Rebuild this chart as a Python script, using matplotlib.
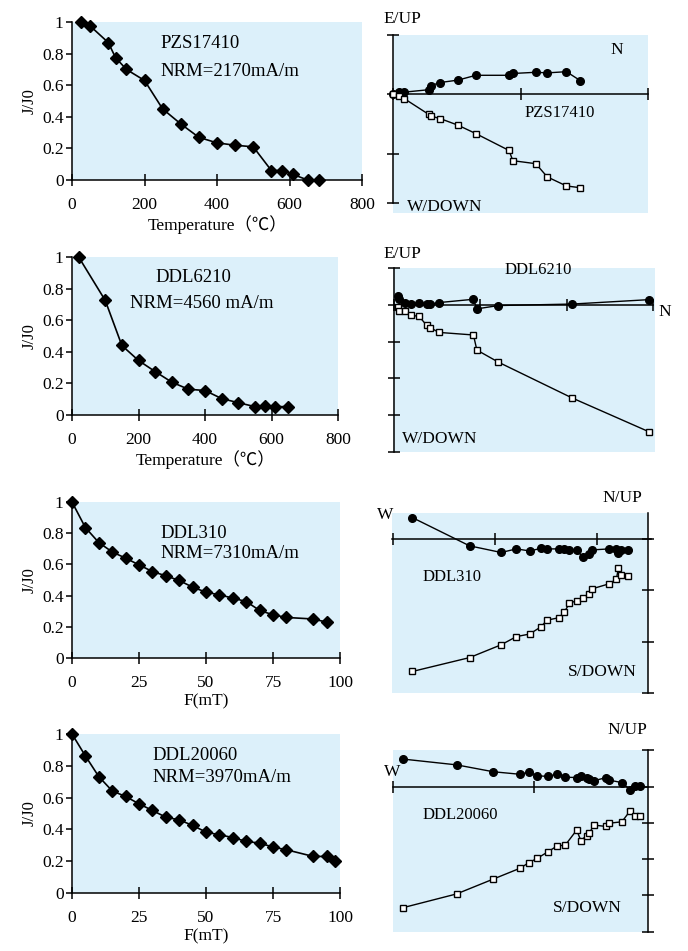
import matplotlib
matplotlib.use("Agg")
import matplotlib.pyplot as plt

plt.rcParams["font.family"] = ["Liberation Serif", "Noto Sans CJK SC", "DejaVu Sans"]
plt.rcParams["font.size"] = 12
plt.rcParams["axes.linewidth"] = 1.1

W_PX, H_PX = 688, 951
BLUE = "#dcf0fa"

# ---- demagnetisation curves (J/J0) ----
pzs_temp = [25, 50, 100, 120, 150, 200, 250, 300, 350, 400, 450, 500, 550, 580, 610, 650, 680]
pzs_j = [1.0, 0.975, 0.87, 0.775, 0.70, 0.63, 0.45, 0.355, 0.27, 0.235, 0.22, 0.21, 0.06, 0.06, 0.035, 0.0, 0.0]

ddl6210_temp = [20, 100, 150, 200, 250, 300, 350, 400, 450, 500, 550, 580, 610, 650]
ddl6210_j = [1.0, 0.725, 0.44, 0.345, 0.275, 0.208, 0.163, 0.155, 0.104, 0.078, 0.053, 0.059, 0.053, 0.053]

ddl310_field = [0, 5, 10, 15, 20, 25, 30, 35, 40, 45, 50, 55, 60, 65, 70, 75, 80, 90, 95]
ddl310_j = [1.0, 0.836, 0.74, 0.68, 0.64, 0.597, 0.554, 0.527, 0.497, 0.454, 0.422, 0.405,
            0.384, 0.362, 0.305, 0.277, 0.26, 0.25, 0.23]

ddl20060_field = [0, 5, 10, 15, 20, 25, 30, 35, 40, 45, 50, 55, 60, 65, 70, 75, 80, 90, 95, 98]
ddl20060_j = [1.0, 0.862, 0.732, 0.642, 0.607, 0.561, 0.519, 0.477, 0.46, 0.425, 0.383, 0.366,
              0.349, 0.324, 0.314, 0.289, 0.272, 0.23, 0.23, 0.203]

# ---- Zijderveld projections (horizontal component, filled = horizontal plane, open = vertical plane) ----
zpzs_h = [0, 0.05, 0.09, 0.28, 0.30, 0.37, 0.51, 0.65, 0.91, 0.94, 1.12, 1.21, 1.36, 1.47]
zpzs_f = [0, 0.03, 0.03, 0.07, 0.14, 0.19, 0.23, 0.31, 0.31, 0.34, 0.36, 0.35, 0.37, 0.22]
zpzs_o = [0, -0.04, -0.08, -0.34, -0.37, -0.41, -0.52, -0.66, -0.94, -1.11, -1.16, -1.38, -1.53, -1.56]

z6210_h = [0.05, 0.06, 0.13, 0.20, 0.29, 0.38, 0.42, 0.52, 0.92, 0.96, 1.21, 2.06, 2.95]
z6210_f = [0.23, 0.16, 0.05, 0.02, 0.06, 0.02, 0.02, 0.06, 0.15, -0.11, -0.02, 0.02, 0.14]
z6210_o = [-0.07, -0.18, -0.16, -0.29, -0.31, -0.56, -0.62, -0.75, -0.82, -1.23, -1.56, -2.53, -3.45]

z310_h = [0.19, 0.75, 1.06, 1.21, 1.34, 1.45, 1.51, 1.63, 1.68, 1.73, 1.80, 1.86, 1.92, 1.95,
          2.12, 2.19, 2.21, 2.24, 2.30]
z310_f = [0.42, -0.13, -0.26, -0.19, -0.23, -0.18, -0.19, -0.19, -0.19, -0.21, -0.21, -0.35,
          -0.29, -0.21, -0.19, -0.19, -0.27, -0.21, -0.22]
z310_o = [-2.58, -2.31, -2.06, -1.90, -1.85, -1.71, -1.58, -1.53, -1.42, -1.25, -1.20, -1.15,
          -1.06, -0.97, -0.87, -0.78, -0.56, -0.69, -0.71]

z20060_h = [0.07, 0.45, 0.71, 0.90, 0.96, 1.02, 1.10, 1.16, 1.22, 1.30, 1.33, 1.37, 1.39, 1.42,
            1.51, 1.53, 1.62, 1.68, 1.71, 1.75]
z20060_f = [0.76, 0.60, 0.41, 0.34, 0.40, 0.30, 0.28, 0.35, 0.26, 0.25, 0.28, 0.25, 0.20, 0.16,
            0.25, 0.18, 0.11, -0.09, 0.02, 0.02]
z20060_o = [-3.34, -2.96, -2.55, -2.25, -2.10, -1.98, -1.79, -1.64, -1.61, -1.20, -1.49, -1.35,
            -1.29, -1.06, -1.10, -1.01, -0.97, -0.66, -0.81, -0.81]

J_TICKS = [0, 0.2, 0.4, 0.6, 0.8, 1.0]
J_LABELS = ["0", "0.2", "0.4", "0.6", "0.8", "1"]


def px_rect(x0, y0, x1, y1):
    return [x0 / W_PX, 1 - y1 / H_PX, (x1 - x0) / W_PX, (y1 - y0) / H_PX]


def px_text(fig, x, y, s, size=12.5, ha="center"):
    fig.text(x / W_PX, 1 - y / H_PX, s, ha=ha, va="center", fontsize=size)


def decay_panel(fig, rect, x, y, xmax, xticks, xlabel):
    ax = fig.add_axes(rect)
    ax.set_facecolor(BLUE)
    ax.plot(x, y, color="black", lw=1.2, marker="D", ms=5.8, clip_on=False, zorder=3)
    ax.set_xlim(0, xmax)
    ax.set_ylim(0, 1)
    ax.spines["top"].set_visible(False)
    ax.spines["right"].set_visible(False)
    ax.set_xticks(xticks)
    ax.set_yticks(J_TICKS)
    ax.set_yticklabels(J_LABELS)
    ax.tick_params(axis="x", direction="inout", length=8, width=1.1, pad=8, labelsize=12.5)
    ax.tick_params(axis="y", direction="out", length=4, width=1.1, pad=2, labelsize=12.5)
    ax.set_xlabel(xlabel, fontsize=12.5, labelpad=2)
    ax.set_ylabel("J/J0", fontsize=12, labelpad=3)
    return ax


def zijder_panel(fig, rect, xlim, ylim, vpos, vbounds, vticks, hbounds, hticks, h, f, o):
    ax = fig.add_axes(rect)
    ax.set_facecolor(BLUE)
    ax.set_xlim(*xlim)
    ax.set_ylim(*ylim)
    ax.spines["top"].set_visible(False)
    ax.spines["right"].set_visible(False)
    ax.spines["left"].set_position(("data", vpos))
    ax.spines["left"].set_bounds(*vbounds)
    ax.spines["bottom"].set_position(("data", 0))
    ax.spines["bottom"].set_bounds(*hbounds)
    ax.set_xticks(hticks)
    ax.set_yticks(vticks)
    ax.tick_params(direction="inout", length=8, width=1.1, labelleft=False, labelbottom=False)
    ax.plot(h, f, color="black", lw=1.0, marker="o", ms=5.5, mfc="black", clip_on=False, zorder=3)
    ax.plot(h, o, color="black", lw=1.0, marker="s", ms=5, mfc="white", mew=1.0, clip_on=False, zorder=3)
    return ax


fig = plt.figure(figsize=(W_PX / 100, H_PX / 100), dpi=100)

temp_label = "Temperature（℃）"
decay_panel(fig, px_rect(72, 22, 362, 180), pzs_temp, pzs_j, 800, [0, 200, 400, 600, 800], temp_label)
decay_panel(fig, px_rect(72, 257, 338, 415), ddl6210_temp, ddl6210_j, 800, [0, 200, 400, 600, 800], temp_label)
decay_panel(fig, px_rect(72, 502, 340, 658), ddl310_field, ddl310_j, 100, [0, 25, 50, 75, 100], "F(mT)")
decay_panel(fig, px_rect(72, 734, 340, 893), ddl20060_field, ddl20060_j, 100, [0, 25, 50, 75, 100], "F(mT)")

px_text(fig, 160, 43, "PZS17410", 13.5, "left")
px_text(fig, 160, 72, "NRM=2170mA/m", 13.5, "left")
px_text(fig, 155, 278, "DDL6210", 13.5, "left")
px_text(fig, 130, 303, "NRM=4560 mA/m", 13.5, "left")
px_text(fig, 160, 533, "DDL310", 13.5, "left")
px_text(fig, 160, 554, "NRM=7310mA/m", 13.5, "left")
px_text(fig, 152, 756, "DDL20060", 13.5, "left")
px_text(fig, 152, 777, "NRM=3970mA/m", 13.5, "left")

zijder_panel(fig, px_rect(393, 35, 648, 213), (0, 2), (-1.98, 0.98), 0, (-1.82, 0.98),
             [-1.82, -1, 0, 0.98], (0, 2), [0, 1, 2], zpzs_h, zpzs_f, zpzs_o)
zijder_panel(fig, px_rect(393, 268, 655, 452), (-0.01, 3.02), (-4, 1), 0, (-4, 1),
             [-4, -3, -2, -1, 0, 1], (0, 3), [0, 1, 2, 3], z6210_h, z6210_f, z6210_o)
zijder_panel(fig, px_rect(392, 513, 648, 693), (-0.01, 2.5), (-3, 0.51), 2.5, (-3, 0.51),
             [-3, -2, -1, 0], (-0.01, 2.53), [0, 1, 2], z310_h, z310_f, z310_o)
zijder_panel(fig, px_rect(393, 750, 648, 932), (0, 1.805), (-4.01, 1.01), 1.805, (-4.01, 1.01),
             [-4, -3, -2, -1, 0, 1], (0, 1.805), [0, 1], z20060_h, z20060_f, z20060_o)

px_text(fig, 402, 19, "E/UP")
px_text(fig, 617, 50, "N")
px_text(fig, 560, 113, "PZS17410", 12)
px_text(fig, 445, 207, "W/DOWN")

px_text(fig, 402, 254, "E/UP")
px_text(fig, 538, 270, "DDL6210", 12)
px_text(fig, 665, 312, "N")
px_text(fig, 440, 439, "W/DOWN")

px_text(fig, 385, 515, "W")
px_text(fig, 622, 498, "N/UP")
px_text(fig, 452, 577, "DDL310", 12)
px_text(fig, 602, 672, "S/DOWN")

px_text(fig, 627, 730, "N/UP")
px_text(fig, 392, 772, "W")
px_text(fig, 460, 815, "DDL20060", 12)
px_text(fig, 587, 908, "S/DOWN")

fig.savefig("out.png", dpi=100)
